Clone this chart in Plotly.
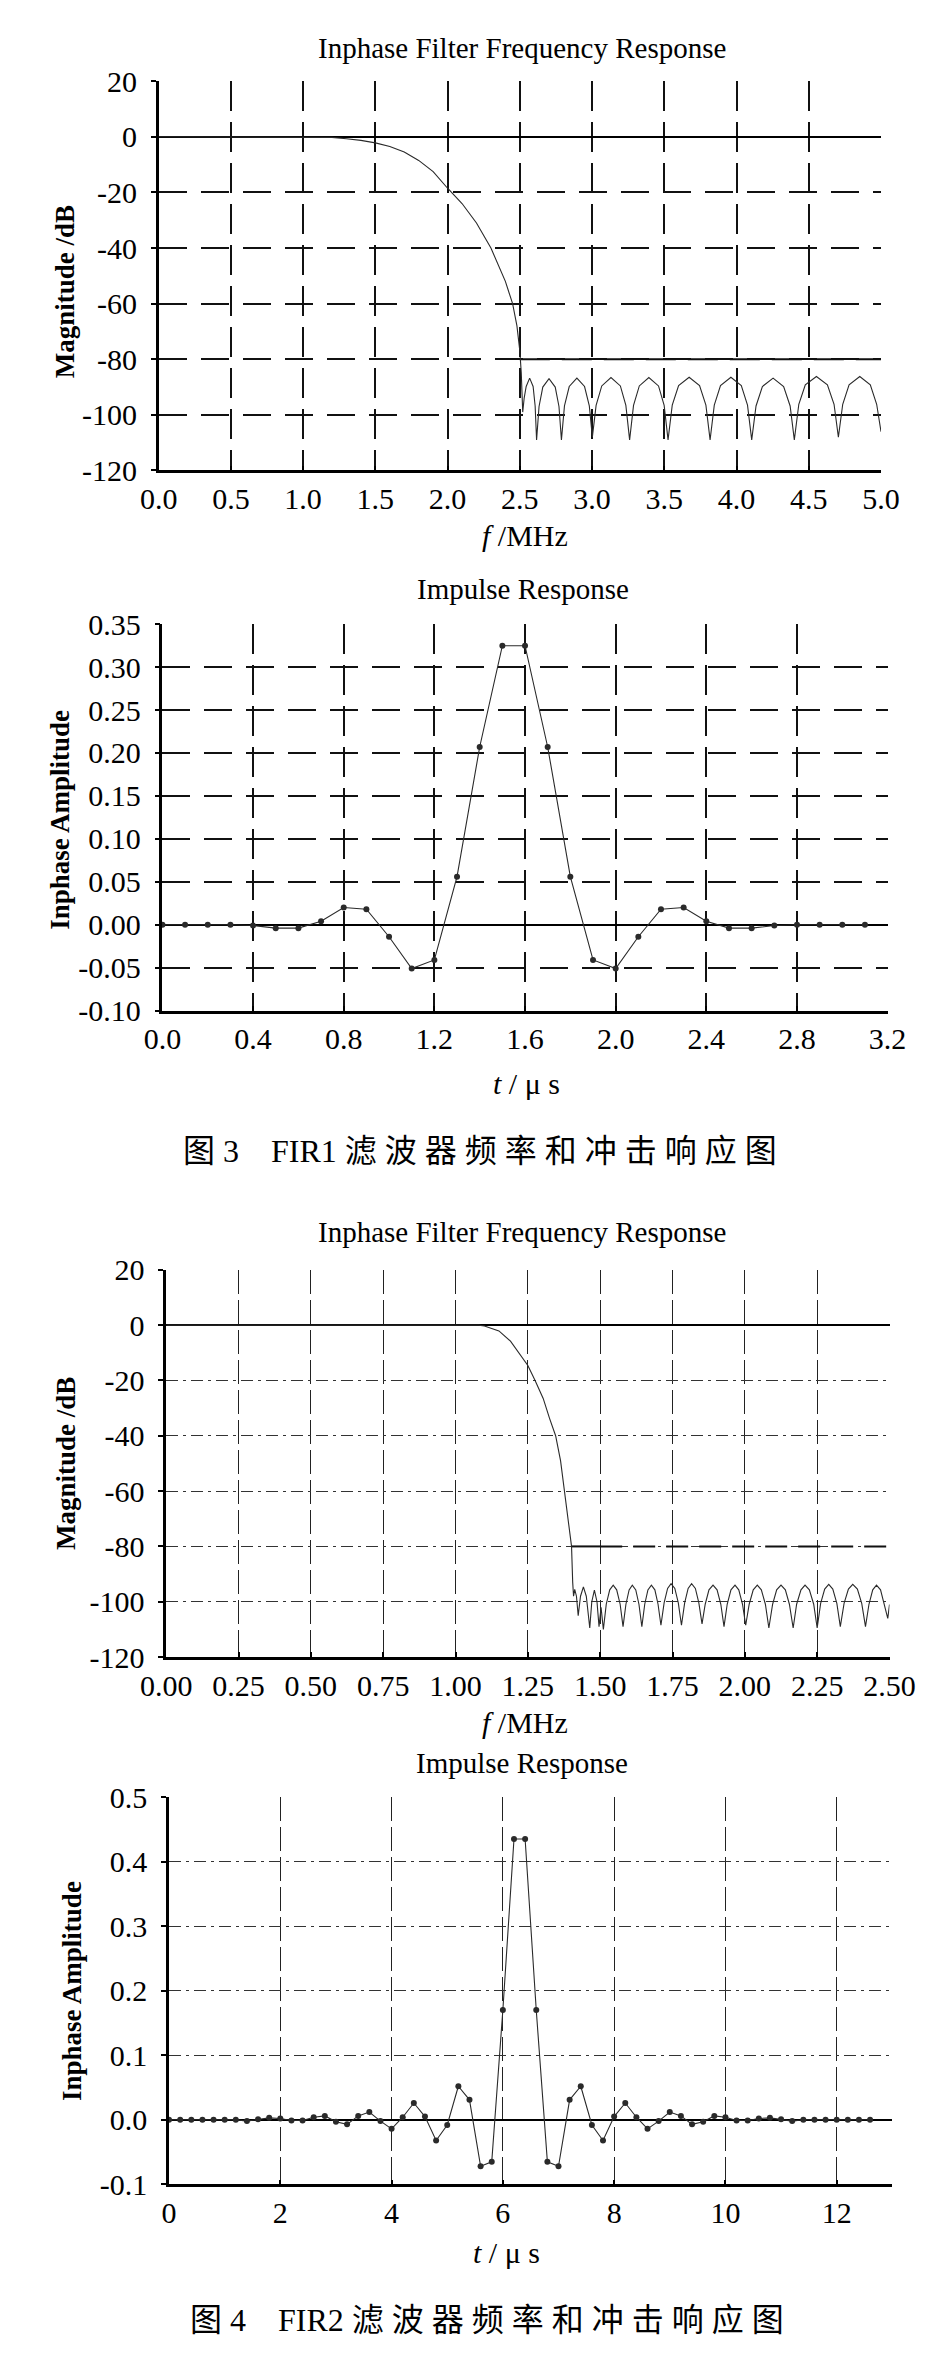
import plotly.graph_objects as go

W, H = 933, 2354

# ---- FIR1 frequency response ----
f1_mhz = [0.0, 0.5, 1.0, 1.1, 1.2, 1.3, 1.4, 1.5, 1.6, 1.7, 1.8, 1.9, 2.0, 2.1, 2.2,
          2.3, 2.35, 2.4, 2.45, 2.48, 2.50, 2.51,
          2.520, 2.530, 2.544, 2.568, 2.592, 2.606,
          2.616, 2.633, 2.659, 2.702, 2.745, 2.771,
          2.788, 2.809, 2.842, 2.895, 2.948, 2.981,
          3.002, 3.028, 3.067, 3.131, 3.196, 3.234,
          3.260, 3.287, 3.327, 3.393, 3.460, 3.499,
          3.526, 3.555, 3.599, 3.672, 3.744, 3.788,
          3.817, 3.846, 3.889, 3.961, 4.033, 4.076,
          4.105, 4.135, 4.179, 4.253, 4.326, 4.371,
          4.400, 4.431, 4.476, 4.553, 4.629, 4.675,
          4.705, 4.735, 4.779, 4.853, 4.926, 4.970, 5.000]
f1_db = [0, 0, 0, 0, -0.2, -0.7, -1.3, -2.2, -3.5, -5.5, -8.5, -12.5, -18.5, -24, -31,
         -40, -46, -52, -60, -68, -77, -85,
         -99, -94, -89.8, -86.8, -89.8, -96.8,
         -109, -97, -90, -87, -90, -97,
         -109, -96.8, -89.8, -86.8, -89.8, -96.8,
         -108, -96.6, -89.6, -86.6, -89.6, -96.6,
         -109, -96.6, -89.6, -86.6, -89.6, -96.6,
         -109, -96.5, -89.5, -86.5, -89.5, -96.5,
         -109, -96.5, -89.5, -86.5, -89.5, -96.5,
         -109, -96.8, -89.8, -86.8, -89.8, -96.8,
         -109, -96.2, -89.2, -86.2, -89.2, -96.2,
         -108, -96.2, -89.2, -86.2, -89.2, -96.2, -106]
mask1_f = [2.5, 5.0]
mask1_db = [-80, -80]

# ---- FIR1 impulse response ----
t1_us = [0.0, 0.1, 0.2, 0.3, 0.4, 0.5, 0.6, 0.7, 0.8, 0.9, 1.0, 1.1, 1.2, 1.3, 1.4, 1.5,
         1.6, 1.7, 1.8, 1.9, 2.0, 2.1, 2.2, 2.3, 2.4, 2.5, 2.6, 2.7, 2.8, 2.9, 3.0, 3.1]
h1 = [0, 0, 0, 0, -0.001, -0.004, -0.004, 0.004, 0.020, 0.018, -0.014, -0.051, -0.041,
      0.056, 0.207, 0.325, 0.325, 0.207, 0.056, -0.041, -0.051, -0.014, 0.018, 0.020,
      0.004, -0.004, -0.004, -0.001, 0, 0, 0, 0]

# ---- FIR2 frequency response ----
f2_mhz = [0.0, 0.5, 1.0, 1.08, 1.10, 1.15, 1.19, 1.226, 1.25, 1.275, 1.303, 1.325,
          1.346, 1.363, 1.377, 1.390, 1.401,
          1.405, 1.408, 1.412, 1.418, 1.424, 1.432, 1.442, 1.452, 1.464, 1.471, 1.480,
          1.489, 1.496, 1.503,
          1.511, 1.521, 1.533, 1.545, 1.557, 1.569,
          1.579, 1.589, 1.600, 1.611, 1.623, 1.634,
          1.644, 1.654, 1.665, 1.677, 1.689, 1.700,
          1.710, 1.721, 1.733, 1.745, 1.758, 1.770,
          1.781, 1.792, 1.804, 1.816, 1.829, 1.841,
          1.852, 1.863, 1.876, 1.890, 1.904, 1.917,
          1.928, 1.939, 1.952, 1.966, 1.979, 1.992,
          2.003, 2.015, 2.029, 2.043, 2.057, 2.071,
          2.083, 2.096, 2.110, 2.125, 2.140, 2.154,
          2.167, 2.179, 2.194, 2.208, 2.223, 2.238,
          2.250, 2.262, 2.276, 2.290, 2.304, 2.318,
          2.330, 2.343, 2.358, 2.373, 2.389, 2.404,
          2.417, 2.429, 2.442, 2.455, 2.469, 2.482, 2.494, 2.500]
f2_db = [0, 0, 0, 0, -0.3, -2.1, -5.8, -11, -14.6, -20, -26.5, -33.7,
         -40, -49, -60, -70.6, -80,
         -93, -98, -95.5, -98, -105, -98, -94.6, -98, -109.5, -100, -95.8,
         -100, -109, -102,
         -110, -100.9, -95.7, -94, -95.7, -100.9,
         -109, -100.9, -95.7, -94, -95.7, -100.9,
         -109, -100.9, -95.7, -94, -95.7, -100.9,
         -108.5, -100.4, -95.2, -93.5, -95.2, -100.4,
         -108.5, -100.4, -95.2, -93.5, -95.2, -100.4,
         -108, -100.9, -95.7, -94, -95.7, -100.9,
         -109, -100.9, -95.7, -94, -95.7, -100.9,
         -108.5, -100.9, -95.7, -94, -95.7, -100.9,
         -109.5, -100.9, -95.7, -94, -95.7, -100.9,
         -109.5, -100.9, -95.7, -94, -95.7, -100.9,
         -109.5, -100.6, -95.4, -93.7, -95.4, -100.6,
         -109, -100.6, -95.4, -93.7, -95.4, -100.6,
         -109, -100.9, -95.7, -94, -95.7, -100.9, -106, -101]
mask2_f = [1.4, 1.5, 2.5]
mask2_db = [-80, -80, -80]

# ---- FIR2 impulse response ----
t2_us = [0.0, 0.2, 0.4, 0.6, 0.8, 1.0, 1.2, 1.4, 1.6, 1.8, 2.0, 2.2, 2.4, 2.6, 2.8, 3.0,
         3.2, 3.4, 3.6, 3.8, 4.0, 4.2, 4.4, 4.6, 4.8, 5.0, 5.2, 5.4, 5.6, 5.8, 6.0, 6.2,
         6.4, 6.6, 6.8, 7.0, 7.2, 7.4, 7.6, 7.8, 8.0, 8.2, 8.4, 8.6, 8.8, 9.0, 9.2, 9.4,
         9.6, 9.8, 10.0, 10.2, 10.4, 10.6, 10.8, 11.0, 11.2, 11.4, 11.6, 11.8, 12.0, 12.2,
         12.4, 12.6]
h2 = [0, 0, 0, 0, 0, 0, 0, -0.002, 0.001, 0.003, 0.002, -0.001, -0.001, 0.004, 0.006,
      -0.003, -0.007, 0.006, 0.012, -0.002, -0.014, 0.004, 0.026, 0.005, -0.032, -0.008,
      0.052, 0.031, -0.072, -0.065, 0.17, 0.435,
      0.435, 0.17, -0.065, -0.072, 0.031, 0.052, -0.008, -0.032, 0.005, 0.026, 0.004,
      -0.014, -0.002, 0.012, 0.006, -0.007, -0.003, 0.006, 0.004, -0.001, -0.001, 0.002,
      0.003, 0.001, -0.002, 0, 0, 0, 0, 0, 0, 0]

# ---- tick labels ----
x1_labels = ["0.0", "0.5", "1.0", "1.5", "2.0", "2.5", "3.0", "3.5", "4.0", "4.5", "5.0"]
y_db_labels = ["20", "0", "-20", "-40", "-60", "-80", "-100", "-120"]
x2_labels = ["0.0", "0.4", "0.8", "1.2", "1.6", "2.0", "2.4", "2.8", "3.2"]
y2_labels = ["0.35", "0.30", "0.25", "0.20", "0.15", "0.10", "0.05", "0.00", "-0.05", "-0.10"]
x3_labels = ["0.00", "0.25", "0.50", "0.75", "1.00", "1.25", "1.50", "1.75", "2.00",
             "2.25", "2.50"]
x4_labels = ["0", "2", "4", "6", "8", "10", "12"]
y4_labels = ["0.5", "0.4", "0.3", "0.2", "0.1", "0.0", "-0.1"]

SERIF = "Liberation Serif"
INK = "#2a2a2a"

fig = go.Figure()

# plot rectangles in page pixels: left, right, top, bottom
boxes = [(132, 897, 57, 452), (136, 904, 608, 1000),
         (140, 906, 1263, 1656), (143, 909, 1798, 2191)]


def dom(b):
    l, r, t, bt = b
    return [l / W, r / W], [1 - bt / H, 1 - t / H]


def axis_pair(n, xlabels, ylabels, xr, yr, fine):
    xd, yd = dom(boxes[n - 1])
    if fine:
        gx = dict(gridcolor="#222", gridwidth=1.4, griddash="24px,6px")
        gy = dict(gridcolor="#333", gridwidth=1.2, griddash="12px,5px,3px,5px")
    else:
        gx = dict(gridcolor="#111", gridwidth=1.8, griddash="30px,11px")
        gy = dict(gridcolor="#111", gridwidth=1.8, griddash="28px,14px")
    common = dict(showline=True, linecolor="black", linewidth=2.5,
                  ticklen=5, tickwidth=2, tickcolor="black", showgrid=True,
                  tickfont=dict(family=SERIF, size=30, color="black"))
    xa = dict(domain=xd, range=xr, tickvals=[float(s) for s in xlabels], ticktext=xlabels,
              zeroline=False, anchor="y" if n == 1 else "y%d" % n, ticks="inside",
              ticklabelstandoff=0, **gx, **common)
    ya = dict(domain=yd, range=yr, tickvals=[float(s) for s in ylabels], ticktext=ylabels,
              zeroline=True, zerolinecolor="black", zerolinewidth=2, ticks="outside",
              anchor="x" if n == 1 else "x%d" % n, ticklabelstandoff=8, **gy, **common)
    key = "" if n == 1 else str(n)
    fig.update_layout(**{"xaxis" + key: xa, "yaxis" + key: ya})


axis_pair(1, x1_labels, y_db_labels, [0, 5], [-120, 20], False)
axis_pair(2, x2_labels, y2_labels, [0, 3.2], [-0.10, 0.35], False)
axis_pair(3, x3_labels, y_db_labels, [0, 2.5], [-120, 20], True)
axis_pair(4, x4_labels, y4_labels, [0, 13], [-0.1, 0.5], True)

# traces
fig.add_trace(go.Scatter(x=mask1_f, y=mask1_db, mode="lines", xaxis="x", yaxis="y",
                         line=dict(color="#111", width=1.8, dash="30px,12px")))
fig.add_trace(go.Scatter(x=f1_mhz, y=f1_db, mode="lines", xaxis="x", yaxis="y",
                         line=dict(color=INK, width=1.1)))
fig.add_trace(go.Scatter(x=t1_us, y=h1, mode="lines+markers", xaxis="x2", yaxis="y2",
                         line=dict(color=INK, width=1.1), cliponaxis=False,
                         marker=dict(size=6, color=INK)))
# stopband mask: solid first step, then long dashes
fig.add_trace(go.Scatter(x=mask2_f[:2], y=mask2_db[:2], mode="lines", xaxis="x3",
                         yaxis="y3", line=dict(color="#111", width=2)))
fig.add_trace(go.Scatter(x=mask2_f[1:], y=mask2_db[1:], mode="lines", xaxis="x3",
                         yaxis="y3", line=dict(color="#111", width=2, dash="22px,11px")))
fig.add_trace(go.Scatter(x=f2_mhz, y=f2_db, mode="lines", xaxis="x3", yaxis="y3",
                         line=dict(color=INK, width=1.1)))
fig.add_trace(go.Scatter(x=t2_us, y=h2, mode="lines+markers", xaxis="x4", yaxis="y4",
                         line=dict(color=INK, width=1.1), cliponaxis=False,
                         marker=dict(size=6, color=INK)))


def label(text, x, y, size, angle=0, family=SERIF):
    fig.add_annotation(text=text, x=x / W, y=1 - y / H, xref="paper", yref="paper",
                       showarrow=False, xanchor="center", yanchor="middle",
                       textangle=angle, font=dict(family=family, size=size, color="black"))


label("Inphase Filter Frequency Response", 517, 23, 29)
label("Impulse Response", 518, 572, 29)
label("Inphase Filter Frequency Response", 517, 1225, 29)
label("Impulse Response", 517, 1763, 29)

label("<i>f</i> /MHz", 520, 518, 30)
label("<i>t</i> / μ s", 522, 1074, 30)
label("<i>f</i> /MHz", 520, 1722, 30)
label("<i>t</i> / μ s", 500, 2260, 30)

label("<b>Magnitude /dB</b>", 33, 271, 27, -90)
label("<b>Inphase Amplitude</b>", 28, 806, 27, -90)
label("<b>Magnitude /dB</b>", 34, 1460, 27, -90)
label("<b>Inphase Amplitude</b>", 40, 1995, 27, -90)

sp = "\u00a0"
cjk = SERIF + ", Noto Sans CJK SC"
cap1 = "图" + sp + "3" + sp * 4 + "FIR1" + sp + sp.join("滤波器频率和冲击响应图")
cap2 = "图" + sp + "4" + sp * 4 + "FIR2" + sp + sp.join("滤波器频率和冲击响应图")
label(cap1, 472, 1142, 32, family=cjk)
label(cap2, 480, 2329, 32, family=cjk)

fig.update_layout(width=W, height=H, margin=dict(l=0, r=0, t=0, b=0),
                  paper_bgcolor="white", plot_bgcolor="white", showlegend=False)

fig.write_html("out.html")
